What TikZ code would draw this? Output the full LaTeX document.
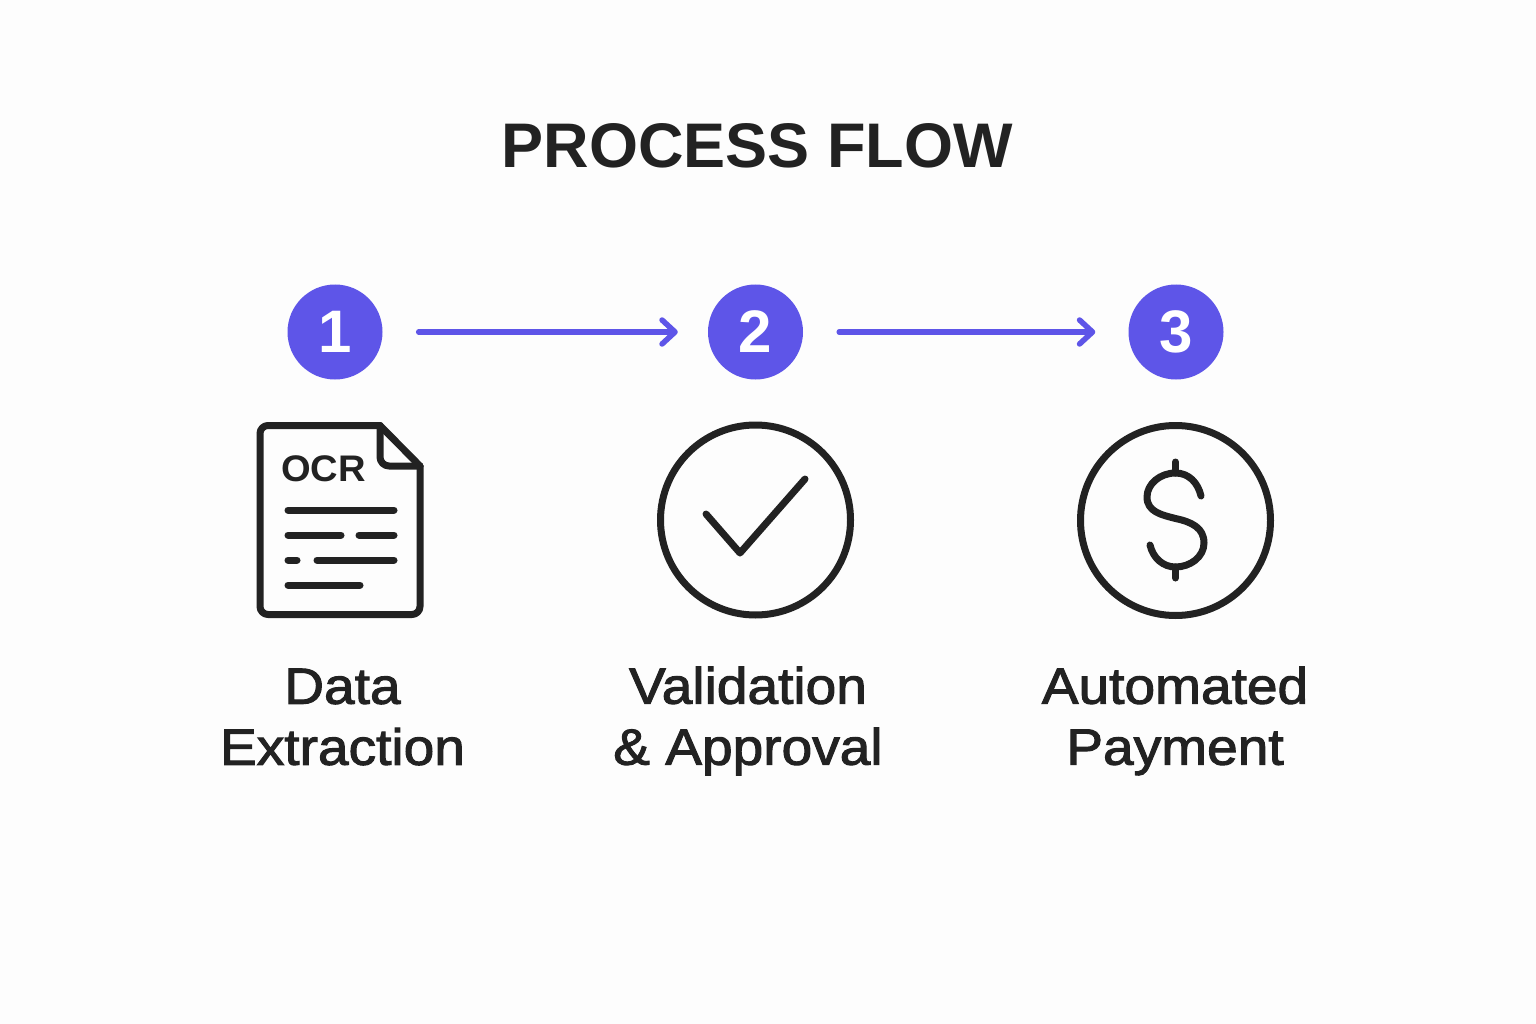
\documentclass[tikz,border=0pt]{standalone}
\usepackage{fontspec}
\setmainfont{Liberation Sans}
\newfontfamily\medfont[FakeBold=2,FakeStretch=1.08]{Liberation Sans}
\newfontfamily\wideboldfont[FakeStretch=1.03]{Liberation Sans Bold}
\usetikzlibrary{arrows.meta}
\definecolor{ink}{HTML}{222222}
\definecolor{accent}{HTML}{5E55E8}
\definecolor{paper}{HTML}{FDFDFD}
\tikzset{
  badge/.style={circle,fill=accent,minimum size=95pt,inner sep=0pt,text=white,font=\bfseries\fontsize{60}{60}\selectfont},
  flow/.style={accent,line width=5.5pt,line cap=round,line join=round,-{Straight Barb[length=13pt,width=24pt,line width=5.5pt,round]}},
  icon/.style={ink,line width=7pt,line cap=round,line join=round},
  ring/.style={circle,draw=ink,line width=7pt,minimum size=190pt,inner sep=0pt},
  caption/.style={text=ink,align=center,font=\medfont\fontsize{51}{61}\selectfont},
}
\begin{document}
\begin{tikzpicture}[x=1pt,y=-1pt]
\useasboundingbox[fill=paper](0,0)rectangle(1536,1024);
\node[text=ink,font=\bfseries\fontsize{63}{63}\selectfont](title)at(757,146){PROCESS FLOW};

\node[badge](N1)at(335,332){\raisebox{-1pt}{1}};
\node[badge](N2)at(755.5,332){\raisebox{-1pt}{2}};
\node[badge](N3)at(1176,332){\raisebox{-1pt}{3}};
\draw[flow,shorten <=36pt,shorten >=30pt](N1)--(N2);
\draw[flow,shorten <=36pt,shorten >=33pt](N2)--(N3);

% document
\draw[icon,rounded corners=8pt](380,425.5)--(260,425.5)--(260,614.5)--(420,614.5)--(420,466);
\draw[icon](380,425.5)--(420,466);
\draw[icon,rounded corners=9pt](380,425.5)--(380,466)--(420,466);
\node[text=ink,font=\wideboldfont\fontsize{37}{37}\selectfont](ocr)at(323.5,469){OCR};
\foreach \xa/\xb/\yy in {288/394/510,288/341/535,359/394/535,288/297/560,317/394/560,288/360/585}
\draw[icon](\xa,\yy)--(\xb,\yy);

% check
\node[ring](V)at(755.5,520){};
\draw[icon](706,514)--(740,553)--(805,479);

% dollar
\node[ring](P)at(1175.5,520.5){};
\draw[icon](1175.5,462)--(1175.5,473);
\draw[icon](1175.5,567)--(1175.5,578);
\draw[icon](1201,496)..controls(1198,483)and(1189,473)..(1175.5,473)
  ..controls(1160,473)and(1147,484)..(1147,497)
  ..controls(1147,512)and(1162,515)..(1175.5,518.5)
  ..controls(1192,522)and(1204,528)..(1204,543)
  ..controls(1204,557)and(1190,567)..(1175.5,567)
  ..controls(1163,567)and(1153,558)..(1150,545);

\node[caption](L1)at(342.5,717){Data\\Extraction};
\node[caption](L2)at(748,721){Validation\\\& Approval};
\node[caption](L3)at(1175,721){Automated\\Payment};
\end{tikzpicture}
\end{document}
